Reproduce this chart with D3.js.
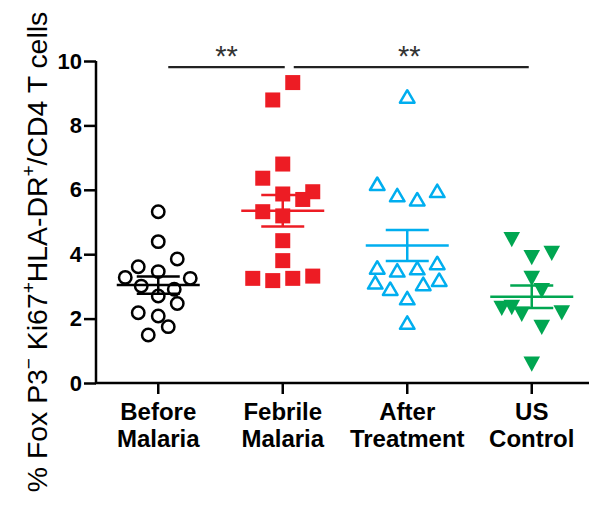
<!DOCTYPE html>
<html>
<head>
<meta charset="utf-8">
<script src="https://cdn.jsdelivr.net/npm/d3@7"></script>
<style>
  html, body { margin: 0; padding: 0; background: #fff; }
  svg { display: block; }
  text { font-family: "Liberation Sans", Arial, Helvetica, sans-serif; }
</style>
</head>
<body>
<svg id="chart" width="589" height="514"></svg>
<script>
// ---------- data ----------
const categories = ["Before Malaria", "Febrile Malaria", "After Treatment", "US Control"];
const categoryLines = [["Before", "Malaria"], ["Febrile", "Malaria"], ["After", "Treatment"], ["US", "Control"]];
const beforeMalaria   = [5.32, 4.39, 3.85, 3.61, 3.46, 3.28, 3.25, 3.01, 2.91, 2.70, 2.47, 2.18, 2.08, 1.75, 1.49];
const beforeSlots     = [0, 0, 1.9, -2, 0, -3.3, 3.2, -1.7, 1.6, 0, 1.9, -2, 0, 1, -1];
const febrileMalaria  = [9.33, 8.79, 6.80, 6.36, 5.87, 5.94, 5.70, 5.32, 5.19, 4.42, 3.80, 3.25, 3.18, 3.25, 3.32];
const febrileSlots    = [1, -1, 0, -2, 0, 3, 2, -2, 0, 0, 0, -3, -1, 1, 3];
const afterTreatment  = [8.89, 6.18, 5.83, 5.70, 5.96, 3.58, 3.49, 3.56, 3.72, 3.12, 2.92, 3.07, 3.20, 2.63, 1.87];
const afterSlots      = [0, -3, -1, 1, 3, -3, -1, 1, 3, -3.2, -1.7, 1.6, 3.2, 0, 0];
const usControl       = [4.46, 3.90, 4.03, 3.25, 2.87, 2.32, 2.35, 2.14, 2.18, 1.73, 0.59];
const usSlots         = [-2, 0, 2, 0, 1, -3, -2, -1, 3, 1, 0];
const groupMeans = [3.04, 5.35, 4.27, 2.68];
const groupSems  = [0.27, 0.49, 0.48, 0.35];
const yTicks = [0, 2, 4, 6, 8, 10];
const comparisons = [
  { from: "Before Malaria", to: "Febrile Malaria", value: 9.9, label: "**" },
  { from: "Febrile Malaria", to: "US Control", value: 9.9, label: "**" }
];

const groupValues = [beforeMalaria, febrileMalaria, afterTreatment, usControl];
const groupSlots  = [beforeSlots, febrileSlots, afterSlots, usSlots];
const colors  = ["#000000", "#ED1C24", "#00AEEF", "#00A651"];
const shapes  = ["circle", "square", "triangleUp", "triangleDown"];

// ---------- layout ----------
const svg = d3.select("#chart");
const x = d3.scaleBand().domain(categories).range([96, 594]);
const cx = c => x(c) + x.bandwidth() / 2;
const y = d3.scaleLinear().domain([0, 10]).range([383, 61]);
const slotW = 10;

// y axis
const yAxis = svg.append("g").attr("transform", "translate(96,0)")
  .call(d3.axisLeft(y).tickValues(yTicks).tickSize(12).tickPadding(2).tickFormat(d3.format("d")));
yAxis.select(".domain").attr("stroke", "#000").attr("stroke-width", 2.5).attr("d", `M0,${y(10)}V${y(0)}`);
yAxis.selectAll(".tick line").attr("stroke", "#000").attr("stroke-width", 2.5);
yAxis.selectAll(".tick text").attr("fill", "#000").attr("font-size", 22).attr("font-weight", "bold")
  .attr("font-family", "'Liberation Sans', Arial, sans-serif");

// x axis
const xAxis = svg.append("g").attr("transform", `translate(0,${y(0)})`)
  .call(d3.axisBottom(x).tickSize(11).tickFormat(""));
xAxis.select(".domain").attr("stroke", "#000").attr("stroke-width", 2.5).attr("d", "M95,0H589");
xAxis.selectAll(".tick line").attr("stroke", "#000").attr("stroke-width", 2.5);

// category labels
categories.forEach((c, i) => {
  const t = svg.append("text").attr("text-anchor", "middle").attr("font-size", 24)
    .attr("font-weight", "bold").attr("fill", "#000");
  categoryLines[i].forEach((line, j) => {
    t.append("tspan").attr("x", cx(c)).attr("y", 420 + j * 26.5).text(line);
  });
});

// y title
const yt = svg.append("text").attr("transform", "translate(47,252) rotate(-90)")
  .attr("text-anchor", "middle").attr("font-size", 28.4).attr("fill", "#000");
yt.append("tspan").text("% Fox P3");
yt.append("tspan").attr("dy", -12).attr("font-size", 19).text("\u2212");
yt.append("tspan").attr("dy", 12).text(" Ki67");
yt.append("tspan").attr("dy", -12).attr("font-size", 19).text("+");
yt.append("tspan").attr("dy", 12).text("HLA-DR");
yt.append("tspan").attr("dy", -12).attr("font-size", 19).text("+");
yt.append("tspan").attr("dy", 12).text("/CD4 T cells");

// mean +/- SEM
categories.forEach((c, i) => {
  const g = svg.append("g").attr("stroke", colors[i]).attr("stroke-width", 2.5).attr("fill", "none");
  const m = groupMeans[i], s = groupSems[i], xc = cx(c);
  g.append("line").attr("x1", xc - 41.5).attr("x2", xc + 41.5).attr("y1", y(m)).attr("y2", y(m));
  g.append("line").attr("x1", xc).attr("x2", xc).attr("y1", y(m + s)).attr("y2", y(m - s));
  g.append("line").attr("x1", xc - 21.5).attr("x2", xc + 21.5).attr("y1", y(m + s)).attr("y2", y(m + s));
  g.append("line").attr("x1", xc - 21.5).attr("x2", xc + 21.5).attr("y1", y(m - s)).attr("y2", y(m - s));
});

// points
categories.forEach((c, i) => {
  const pts = groupValues[i].map((v, k) => ({ px: cx(c) + groupSlots[i][k] * slotW, py: y(v) }));
  const g = svg.append("g");
  const shape = shapes[i];
  if (shape === "circle") {
    g.selectAll("circle").data(pts).join("circle")
      .attr("cx", d => d.px).attr("cy", d => d.py).attr("r", 6.2)
      .attr("fill", "none").attr("stroke", colors[i]).attr("stroke-width", 2.5);
  } else if (shape === "square") {
    g.selectAll("rect").data(pts).join("rect")
      .attr("x", d => d.px - 7.5).attr("y", d => d.py - 7.5).attr("width", 15).attr("height", 15)
      .attr("fill", colors[i]);
  } else if (shape === "triangleUp") {
    g.selectAll("path").data(pts).join("path")
      .attr("d", d => `M${d.px},${d.py - 6.5}L${d.px + 7.3},${d.py + 6}L${d.px - 7.3},${d.py + 6}Z`)
      .attr("fill", "none").attr("stroke", colors[i]).attr("stroke-width", 2.5).attr("stroke-linejoin", "round");
  } else {
    g.selectAll("path").data(pts).join("path")
      .attr("d", d => `M${d.px - 8.3},${d.py - 7.5}L${d.px + 8.3},${d.py - 7.5}L${d.px},${d.py + 7.8}Z`)
      .attr("fill", colors[i]);
  }
});

// significance bars
comparisons.forEach((cmp, i) => {
  const x1 = i === 0 ? cx(cmp.from) + 10 : cx(cmp.from) + 11;
  const x2 = i === 0 ? cx(cmp.to) + 2 : cx(cmp.to) - 3;
  const yy = y(cmp.value) + 3;
  svg.append("line").attr("x1", x1).attr("x2", x2).attr("y1", yy).attr("y2", yy)
    .attr("stroke", "#222").attr("stroke-width", 2.2);
  svg.append("text").attr("x", (x1 + x2) / 2 + (i === 0 ? 0 : -2)).attr("y", yy - 1)
    .attr("text-anchor", "middle").attr("font-size", 29).attr("fill", "#333").text(cmp.label);
});
</script>
</body>
</html>
